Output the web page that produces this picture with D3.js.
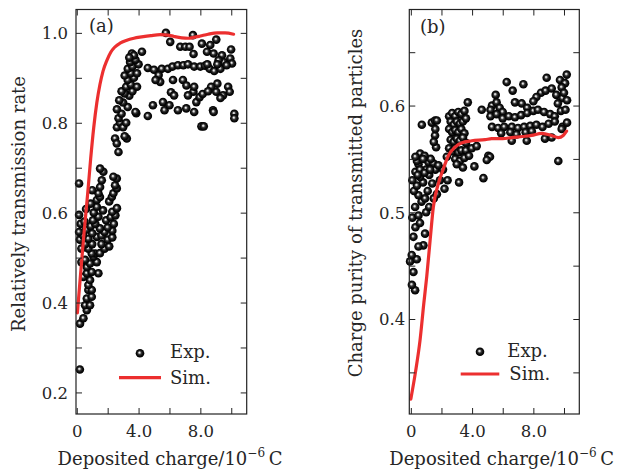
<!DOCTYPE html>
<html>
<head>
<meta charset="utf-8">
<script src="https://cdn.jsdelivr.net/npm/d3@7"></script>
<style>
body { margin: 0; background: #fff; }
svg { display: block; }
text { font-family: "DejaVu Serif", serif; fill: #262626; }
</style>
</head>
<body>
<script>
// ---- data ----
// (a) relative transmission rate vs deposited charge (10^-6 C)
var expA = [
  [0.2,0.251],[0.21,0.353],[0.43,0.365],[0.65,0.383],[0.54,0.394],[0.86,0.394],[0.65,0.409],[0.97,0.413],
  [0.75,0.428],[0.97,0.428],[0.75,0.439],[0.86,0.450],[0.43,0.457],[0.65,0.465],[1.4,0.465],[0.97,0.468],
  [0.65,0.479],[0.86,0.487],[0.3,0.49],[1.3,0.49],[0.54,0.495],[1.08,0.502],[1.19,0.509],[0.97,0.509],[1.5,0.51],
  [0.3,0.52],[0.75,0.52],[1.8,0.52],[2.1,0.525],[0.54,0.53],[1.0,0.53],[1.6,0.53],[0.2,0.54],[2.0,0.54],
  [0.75,0.542],[2.3,0.545],[1.3,0.546],[1.6,0.549],[0.4,0.55],[1.0,0.554],[0.15,0.557],[1.8,0.557],[2.3,0.56],
  [0.6,0.562],[1.5,0.565],[2.0,0.567],[0.25,0.575],[0.9,0.57],[1.2,0.575],[2.4,0.575],[0.5,0.58],[1.05,0.583],
  [1.9,0.583],[2.2,0.59],[1.4,0.591],[2.5,0.594],[0.15,0.595],[1.1,0.60],[2.3,0.602],[1.7,0.605],[0.6,0.608],
  [1.3,0.613],[2.6,0.61],[0.9,0.62],[1.3,0.628],[2.1,0.625],[1.5,0.635],[2.27,0.635],[1.4,0.643],[2.37,0.643],
  [1.0,0.65],[1.51,0.657],[2.59,0.654],[2.48,0.661],[0.15,0.665],[1.62,0.672],[2.59,0.676],[2.37,0.68],
  [1.72,0.691],[1.51,0.698],
  [2.48,0.765],[2.59,0.754],[3.24,0.765],[2.7,0.735],[3.1,0.77],
  [2.6,0.79],[2.8,0.80],[3.0,0.79],[2.7,0.81],[3.2,0.80],[2.9,0.82],[2.6,0.83],[3.3,0.835],[3.0,0.845],
  [2.75,0.85],[3.85,0.821],[3.4,0.86],[3.1,0.865],[2.9,0.87],[3.6,0.87],[3.2,0.88],[3.5,0.885],[3.9,0.88],
  [3.3,0.895],[3.7,0.90],[3.1,0.905],[3.5,0.91],[3.9,0.91],[3.3,0.92],[3.6,0.925],[4.0,0.93],[3.45,0.935],
  [3.8,0.94],[3.57,0.954],[3.7,0.95],[4.22,0.958],[3.4,0.945],
  [5.77,1.0],[6.05,0.98],[6.7,0.969],[7.03,0.969],[7.3,0.969],[7.52,0.995],[8.1,0.976],[9.03,0.985],
  [8.64,0.973],[8.43,0.958],[8.86,0.954],[7.56,0.953],[9.99,0.963],[9.4,0.95],[9.94,0.943],[10.05,0.932],
  [9.5,0.935],[9.18,0.939],
  [4.6,0.922],[5.0,0.918],[5.5,0.92],[5.9,0.92],[6.2,0.925],[6.55,0.928],[6.9,0.928],[7.2,0.93],[7.6,0.925],
  [8.0,0.925],[8.3,0.927],[8.6,0.92],[8.9,0.915],[9.3,0.92],[9.7,0.928],[8.45,0.93],[9.1,0.93],
  [5.3,0.906],[5.4,0.891],[5.1,0.895],[6.1,0.868],[6.3,0.861],[6.23,0.895],[6.87,0.895],[7.1,0.883],
  [7.55,0.869],[7.2,0.861],[7.74,0.846],[7.95,0.857],[8.15,0.864],[9.1,0.887],[9.03,0.869],[9.8,0.88],
  [9.9,0.869],[9.47,0.861],[7.6,0.88],[8.7,0.88],[8.5,0.87],[9.3,0.855],
  [4.93,0.839],[5.58,0.846],[5.68,0.828],[6.0,0.839],[6.55,0.828],[7.09,0.832],[4.6,0.815],[3.8,0.824],
  [8.07,0.792],[8.22,0.792],[10.2,0.82],[10.2,0.81],[8.82,0.828],[7.6,0.824],[8.86,0.824]
];
var simA = [
  [0.04,0.377],[0.25,0.465],[0.47,0.555],[0.7,0.64],[0.9,0.72],[1.1,0.79],[1.3,0.845],[1.5,0.885],
  [1.7,0.915],[1.95,0.939],[2.2,0.957],[2.45,0.968],[2.8,0.977],[3.2,0.983],[3.7,0.988],[4.2,0.991],
  [4.8,0.994],[5.4,0.996],[5.9,0.995],[6.3,0.992],[6.8,0.989],[7.2,0.988],[7.6,0.99],[8.0,0.993],
  [8.5,0.997],[9.1,1.0],[9.6,1.0],[10.15,0.997]
];
// (b) charge purity of transmitted particles vs deposited charge
var expB = [
  [0.28,0.427],[0.07,0.432],[0.17,0.444],[-0.05,0.454],[0.39,0.456],[0.06,0.46],[0.82,0.469],[0.17,0.477],
  [0.5,0.468],[0.93,0.48],[0.3,0.486],[0.6,0.49],[0.1,0.495],[0.5,0.497],[1.0,0.50],[0.28,0.505],[0.7,0.51],
  [1.2,0.505],[0.93,0.513],[0.5,0.516],[1.5,0.513],[0.2,0.52],[1.7,0.517],[1.1,0.52],[0.4,0.525],[0.8,0.528],
  [1.4,0.527],[2.2,0.522],[0.1,0.53],[1.9,0.53],[0.6,0.533],[1.2,0.535],[2.4,0.53],[0.3,0.538],[1.0,0.54],
  [1.6,0.54],[2.1,0.54],[0.5,0.545],[0.61,0.555],[0.5,0.549],[1.15,0.547],[1.47,0.546],[1.8,0.544],
  [2.35,0.552],[1.3,0.55],[0.9,0.553],
  [0.72,0.582],[1.37,0.584],[1.58,0.586],[1.7,0.586],[1.58,0.572],[1.65,0.561],[1.5,0.566],[1.6,0.578],
  [0.4,0.548],[0.8,0.55],[0.3,0.552],[0.6,0.54],[0.9,0.537],[1.26,0.54],[0.45,0.535],
  [2.5,0.59],[2.7,0.593],[2.9,0.59],[3.1,0.594],[3.3,0.592],[3.5,0.595],[3.72,0.603],[2.6,0.585],[2.8,0.582],
  [3.0,0.585],[3.2,0.583],[3.4,0.585],[3.6,0.588],[2.5,0.578],[2.7,0.575],[2.9,0.577],[3.1,0.575],[3.3,0.578],
  [3.5,0.574],[2.6,0.568],[2.8,0.566],[3.0,0.569],[3.2,0.567],[3.4,0.57],[3.6,0.565],[2.5,0.56],[2.7,0.557],
  [2.9,0.56],[3.1,0.556],[3.3,0.558],[3.6,0.558],[2.9,0.55],[3.2,0.548],[3.5,0.551],[3.8,0.553],[3.0,0.545],
  [3.98,0.56],[4.3,0.562],[3.4,0.542],[4.15,0.543],[3.15,0.528],[4.63,0.596],
  [4.74,0.532],[5.06,0.553],[5.17,0.552],[4.96,0.549],[9.63,0.548],
  [5.54,0.61],[6.26,0.622],[6.65,0.614],[7.35,0.62],[8.87,0.626],[10.18,0.629],[9.74,0.624],[10.07,0.621],
  [9.85,0.617],[5.3,0.6],[5.6,0.603],[5.2,0.596],[5.8,0.598],[6.0,0.594],[6.8,0.603],[7.24,0.602],
  [8.5,0.612],[8.8,0.614],[9.2,0.616],[9.5,0.61],[8.2,0.608],[8.0,0.604],[7.6,0.598],[9.9,0.607],
  [10.2,0.605],[10.0,0.612],[9.6,0.602],
  [5.2,0.59],[5.6,0.592],[6.0,0.588],[6.4,0.59],[6.8,0.589],[7.2,0.591],[7.6,0.593],[8.0,0.595],[8.3,0.596],
  [8.7,0.594],[9.1,0.592],[9.4,0.59],[9.8,0.595],[10.1,0.596],
  [5.3,0.58],[5.7,0.579],[6.1,0.58],[6.6,0.58],[7.0,0.579],[7.4,0.58],[7.8,0.581],[8.2,0.582],[8.6,0.58],
  [9.0,0.583],[9.4,0.585],[9.9,0.58],[10.2,0.584],
  [5.9,0.574],[6.5,0.575],[6.9,0.573],[7.5,0.575],[7.9,0.576],[6.59,0.567],[7.57,0.567],[8.76,0.569],
  [9.2,0.57],[9.85,0.578]
];
var simB = [
  [0.0,0.325],[0.3,0.35],[0.6,0.38],[0.85,0.415],[1.04,0.44],[1.26,0.474],[1.47,0.505],[1.8,0.527],
  [2.13,0.541],[2.45,0.553],[2.89,0.561],[3.3,0.565],[3.98,0.567],[4.85,0.568],[5.28,0.569],[6.0,0.569],
  [6.59,0.57],[7.3,0.571],[7.89,0.572],[8.54,0.574],[9.2,0.572],[9.63,0.57],[9.95,0.572],[10.17,0.576]
];
var xTicks = [0, 2, 4, 6, 8, 10];
var xLabels = [0, 4, 8];
var yTicksA = [0.2, 0.3, 0.4, 0.5, 0.6, 0.7, 0.8, 0.9, 1.0];
var yLabelsA = [0.2, 0.4, 0.6, 0.8, 1.0];
var yTicksB = [0.35, 0.4, 0.45, 0.5, 0.55, 0.6, 0.65];
var yLabelsB = [0.4, 0.5, 0.6];
var legendNames = ["Exp.", "Sim."];

var red = "#ec2f2f";
var tickFs = 16.5, fs = 18;

var svg = d3.select("body").append("svg")
  .attr("width", 619)
  .attr("height", 473);

// shaded ball for the experimental points
var grad = svg.append("defs").append("radialGradient")
  .attr("id", "ball")
  .attr("cx", "50%").attr("cy", "50%").attr("r", "50%")
  .attr("fx", "42%").attr("fy", "40%");
grad.append("stop").attr("offset", "0%").attr("stop-color", "#ffffff");
grad.append("stop").attr("offset", "20%").attr("stop-color", "#bdbdbd");
grad.append("stop").attr("offset", "40%").attr("stop-color", "#3a3a3a");
grad.append("stop").attr("offset", "70%").attr("stop-color", "#0c0c0c");
grad.append("stop").attr("offset", "100%").attr("stop-color", "#000");

var fmt = function(d) { return d === 0 ? "0" : d.toFixed(1); };

function panel(p) {
  var x = d3.scaleLinear().domain(p.xDomain).range([p.left, p.right]);
  var y = d3.scaleLinear().domain(p.yDomain).range([p.bottom, p.top]);
  var g = svg.append("g");

  // points, then the simulation curve over them
  g.selectAll(".pt")
    .data(p.exp)
    .enter().append("circle")
    .attr("class", "pt")
    .attr("cx", function(d) { return x(d[0]); })
    .attr("cy", function(d) { return y(d[1]); })
    .attr("r", 4.3)
    .attr("fill", "url(#ball)");

  var line = d3.line()
    .x(function(d) { return x(d[0]); })
    .y(function(d) { return y(d[1]); })
    .curve(d3.curveMonotoneX);
  g.append("path")
    .datum(p.sim)
    .attr("d", line)
    .attr("fill", "none")
    .attr("stroke", red)
    .attr("stroke-width", 3.2)
    .attr("stroke-linecap", "round");

  // axes, ticks pointing inward on all four sides
  var ax = function(a) { return a.tickSizeInner(-6).tickSizeOuter(0); };
  var bottom = g.append("g").attr("transform", "translate(0," + p.bottom + ")")
    .call(ax(d3.axisBottom(x)).tickValues(xTicks)
      .tickFormat(function(d) { return xLabels.indexOf(d) >= 0 ? fmt(d) : ""; }));
  bottom.selectAll("text").attr("y", 23).attr("dy", null);
  g.append("g").attr("transform", "translate(0," + p.top + ")")
    .call(ax(d3.axisTop(x)).tickValues(xTicks).tickFormat(""));
  var left = g.append("g").attr("transform", "translate(" + p.left + ",0)")
    .call(ax(d3.axisLeft(y)).tickValues(p.yTicks).tickPadding(p.labelPad)
      .tickFormat(function(d) { return p.yLabels.indexOf(d) >= 0 ? fmt(d) : ""; }));
  left.selectAll("text").attr("dy", "0.36em");
  g.append("g").attr("transform", "translate(" + p.right + ",0)")
    .call(ax(d3.axisRight(y)).tickValues(p.yTicks).tickFormat(""));

  g.selectAll(".domain").remove();
  g.selectAll(".tick line").attr("stroke", "#222").attr("stroke-width", 1);
  g.selectAll(".tick text").attr("font-size", tickFs).attr("font-family", "DejaVu Serif").attr("fill", "#262626");

  g.append("rect")
    .attr("x", p.left).attr("y", p.top)
    .attr("width", p.right - p.left).attr("height", p.bottom - p.top)
    .attr("fill", "none").attr("stroke", "#222").attr("stroke-width", 1.2);

  g.append("text").attr("x", p.tag[0]).attr("y", p.tag[1])
    .attr("font-size", fs).text(p.tagText);

  // axis titles
  var xt = g.append("text").attr("x", p.xTitle[0]).attr("y", p.xTitle[1])
    .attr("text-anchor", "middle").attr("font-size", fs);
  xt.append("tspan").text("Deposited charge/10");
  xt.append("tspan").attr("font-size", 12).attr("dy", -8).text("\u22126");
  xt.append("tspan").attr("dy", 8).text("\u2009C");

  g.append("text")
    .attr("transform", "translate(" + p.yTitle[0] + "," + p.yTitle[1] + ") rotate(-90)")
    .attr("text-anchor", "middle").attr("font-size", fs)
    .text(p.yTitleText);

  // legend
  var lg = p.legend;
  g.append("circle").attr("cx", lg.dot[0]).attr("cy", lg.dot[1]).attr("r", 4.3).attr("fill", "url(#ball)");
  g.append("line").attr("x1", lg.line[0]).attr("x2", lg.line[1])
    .attr("y1", lg.line[2]).attr("y2", lg.line[2])
    .attr("stroke", red).attr("stroke-width", 3.2);
  g.append("text").attr("x", lg.exp[0]).attr("y", lg.exp[1]).attr("font-size", fs).text(legendNames[0]);
  g.append("text").attr("x", lg.sim[0]).attr("y", lg.sim[1]).attr("font-size", fs).text(legendNames[1]);
}

panel({
  left: 76, right: 246.7, top: 9.5, bottom: 414,
  xDomain: [-0.05, 11], yDomain: [0.152, 1.052],
  yTicks: yTicksA, yLabels: yLabelsA, labelPad: 8,
  exp: expA, sim: simA,
  tag: [89, 32], tagText: "(a)",
  xTitle: [170, 465],
  yTitle: [25, 204], yTitleText: "Relatively transmission rate",
  legend: { dot: [140, 353.3], line: [119, 161, 377.7], exp: [170, 357.5], sim: [170, 384] }
});

panel({
  left: 409.3, right: 579.3, top: 9.5, bottom: 414,
  xDomain: [-0.1, 11], yDomain: [0.311, 0.69],
  yTicks: yTicksB, yLabels: yLabelsB, labelPad: 4,
  exp: expB, sim: simB,
  tag: [420, 33], tagText: "(b)",
  xTitle: [501.7, 465],
  yTitle: [361.5, 203], yTitleText: "Charge purity of transmitted particles",
  legend: { dot: [480, 351.7], line: [460.7, 499.3, 374], exp: [507.3, 356.5], sim: [509.3, 380] }
});
</script>
</body>
</html>
